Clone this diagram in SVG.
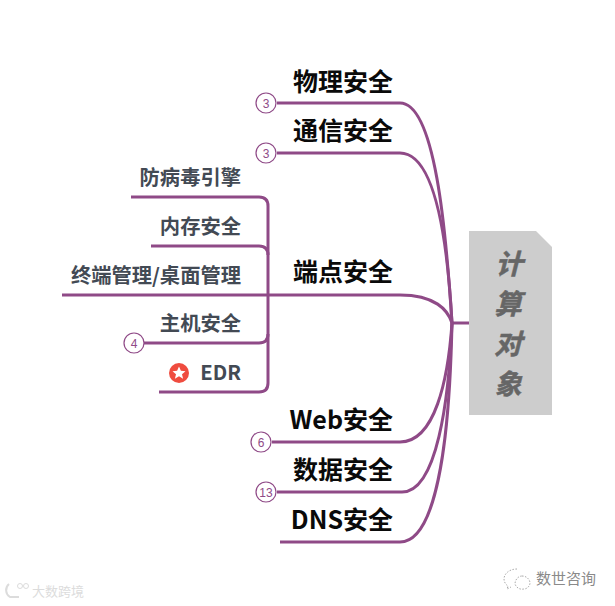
<svg xmlns="http://www.w3.org/2000/svg" width="615" height="606" viewBox="0 0 615 606">
<style>
text{font-family:"Noto Sans CJK SC","Liberation Sans",sans-serif}
.c{fill:none;stroke:#8f4a87;stroke-width:3}
.b{font-size:25px;font-weight:700;fill:#0a0a0a;text-anchor:end}
.s{font-size:20.300px;font-weight:700;fill:#434a54;text-anchor:end}
.n{fill:#fff;stroke:#8f4a87;stroke-width:1.2}
.t{font-size:12px;fill:#8f4a87;text-anchor:middle;font-family:"Liberation Sans",sans-serif}
.r{font-size:27.500px;font-weight:700;fill:#666;stroke:#666;stroke-width:.5;text-anchor:middle;font-style:italic}
</style>
<rect width="615" height="606" fill="#fff"/>
<g id="connectors">
<path class="c" d="M469 323H452"/>
<path class="c" d="M452 323C446 230 435 103 400 103H277"/>
<path class="c" d="M452 323C448 250 437 153 400 153H277"/>
<path class="c" d="M452 323C448 310 435 295 400 295H62"/>
<path class="c" d="M452 323C448 380 435 442 400 442H272"/>
<path class="c" d="M452 323C449 400 437 492 402 492H277"/>
<path class="c" d="M452 323C450 420 440 542 400 542H280"/>
<path class="c" d="M131 197H259Q268 197 268 206V383Q268 392 259 392H159"/>
<path class="c" d="M151 246H259Q268 246 268 255"/>
<path class="c" d="M144 343H259Q268 343 268 334"/>
</g>
<g id="root"><path d="M469 231H536L552 247V415H469Z" fill="#cdcdcd"/>
<text class="r" x="509" y="274">计</text><text class="r" x="508" y="314">算</text><text class="r" x="508" y="354">对</text><text class="r" x="508" y="394">象</text></g>
<g id="n1"><text class="b" x="393" y="91">物理安全</text><circle class="n" cx="266" cy="103" r="10"/><text class="t" x="266" y="107.500">3</text></g>
<g id="n2"><text class="b" x="393" y="140">通信安全</text><circle class="n" cx="266" cy="153" r="10"/><text class="t" x="266" y="157.500">3</text></g>
<g id="n3"><text class="b" x="393" y="281">端点安全</text></g>
<g id="n4"><text class="b" x="393" y="429">Web安全</text><circle class="n" cx="261" cy="442" r="10"/><text class="t" x="261" y="446.500">6</text></g>
<g id="n5"><text class="b" x="393" y="479">数据安全</text><circle class="n" cx="266" cy="492" r="10"/><text class="t" x="266" y="496.500">13</text></g>
<g id="n6"><text class="b" x="393" y="529">DNS安全</text></g>
<g id="s1"><text class="s" x="241" y="185">防病毒引擎</text></g>
<g id="s2"><text class="s" x="241" y="234">内存安全</text></g>
<g id="s3"><text class="s" x="241" y="283">终端管理/桌面管理</text></g>
<g id="s4"><text class="s" x="241" y="331">主机安全</text><circle class="n" cx="134" cy="343" r="10"/><text class="t" x="134" y="347.500">4</text></g>
<g id="s5"><text class="s" x="241" y="380">EDR</text><circle cx="179" cy="373" r="10" fill="#ef4c3f"/><path d="M179 366.500l1.900 4.300 4.600.4-3.500 3 1.100 4.500-4.100-2.400-4.100 2.400 1.100-4.500-3.500-3 4.600-.4z" fill="#fff"/></g>
<g id="watermark-left"><path d="M9 584a8 8 0 0 0 1 13h9" fill="none" stroke="#dcdcdc" stroke-width="2"/><circle cx="20" cy="586" r="2.500" fill="none" stroke="#dcdcdc"/><circle cx="26" cy="586" r="2.500" fill="none" stroke="#dcdcdc"/><text x="32" y="596" font-size="13" fill="#dcdcdc">大数跨境</text></g>
<g id="watermark-right"><path d="M517 569c-8 0-13 5-13 10 0 3 2 6 4 7l-1 3 4-2" fill="none" stroke="#aaa" stroke-dasharray="1.500 1.500"/><path d="M522 576c5 0 8 4 8 7s-3 6-6 6c-5 1-8-2-9-5 0-4 3-8 7-8z" fill="none" stroke="#aaa" stroke-dasharray="1.500 1.500"/><text x="536" y="584" font-size="15" fill="#8a8a8a">数世咨询</text></g>
</svg>
